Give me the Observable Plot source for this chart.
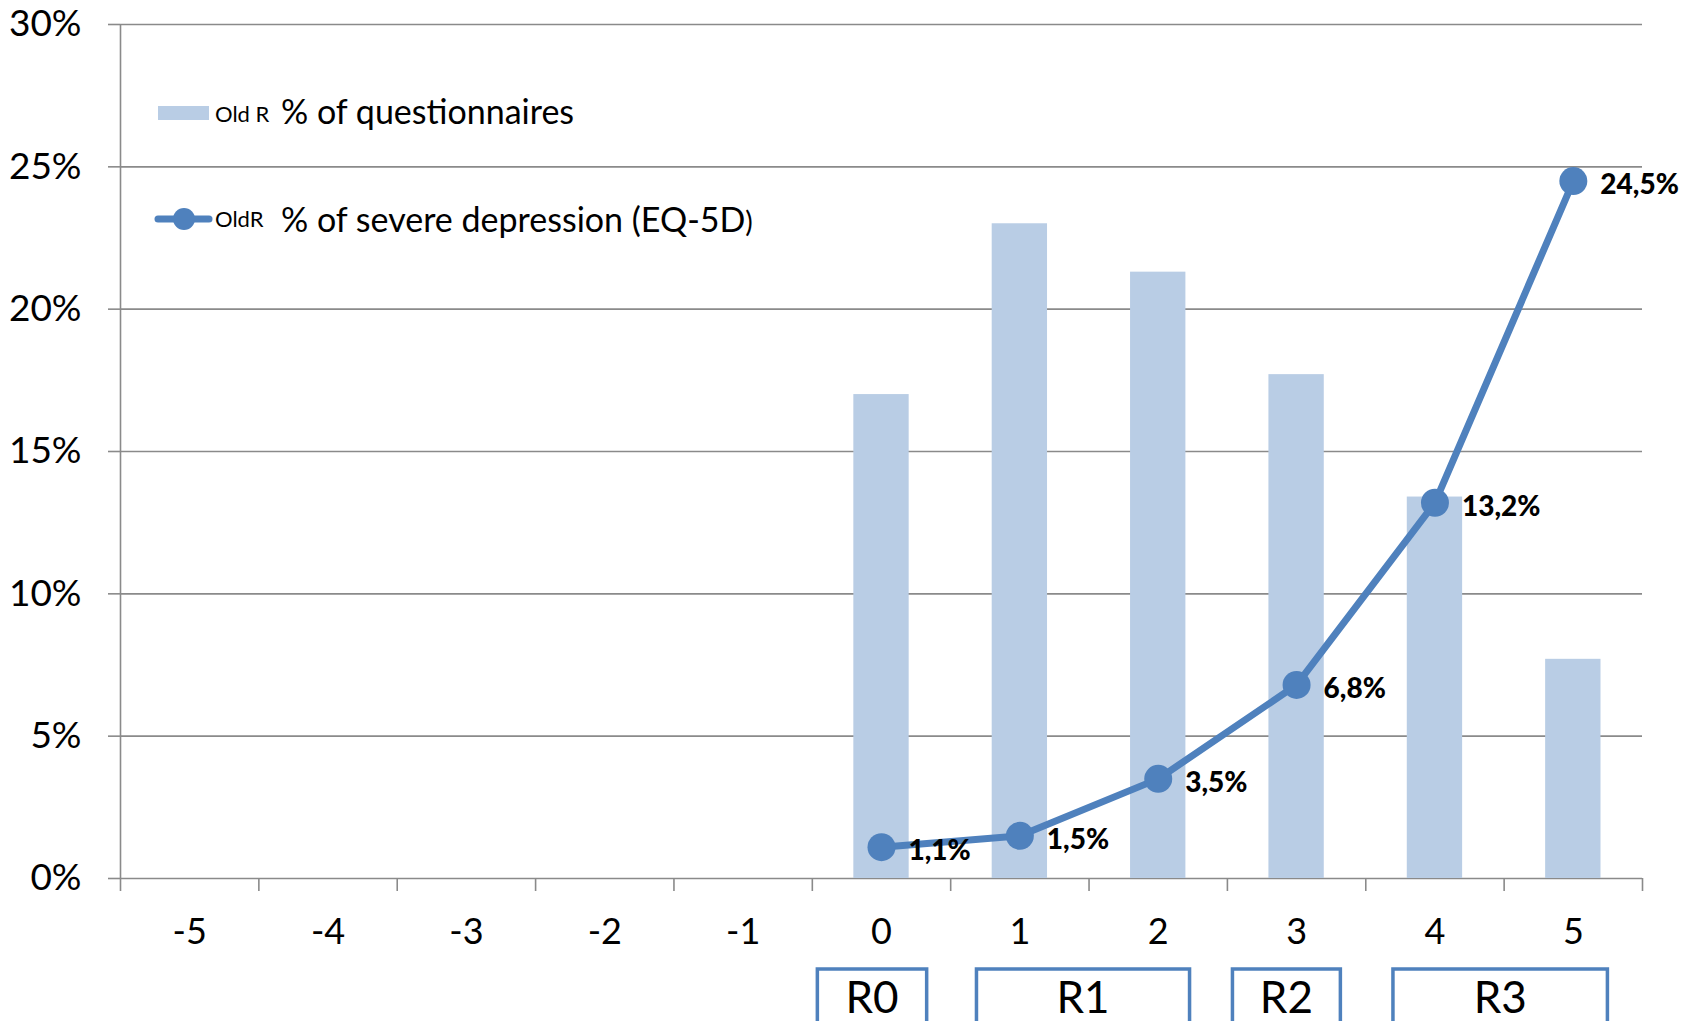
<!DOCTYPE html>
<html>
<head>
<meta charset="utf-8">
<script src="https://cdn.jsdelivr.net/npm/d3@7"></script>
<script src="https://cdn.jsdelivr.net/npm/@observablehq/plot@0.6"></script>
<style>
  html, body { margin: 0; padding: 0; background: #fff; }
  svg { display: block; }
</style>
</head>
<body>
<div id="chart"></div>
<script>
// Category positions on the horizontal axis
const categories = [-5, -4, -3, -2, -1, 0, 1, 2, 3, 4, 5];
// % of questionnaires per category (bars)
const questionnaireShare = [null, null, null, null, null, 17.0, 23.0, 21.3, 17.7, 13.4, 7.7];
// % of severe depression (EQ-5D) per category (line)
const severeDepression = [null, null, null, null, null, 1.1, 1.5, 3.5, 6.8, 13.2, 24.5];
// Y axis ticks (percent)
const yTicks = [0, 5, 10, 15, 20, 25, 30];
// Groups of categories shown in boxes under the axis
const regionLabels = ["R0", "R1", "R2", "R3"];
const regionStart = [-0.46, 0.69, 2.54, 3.70];
const regionEnd = [0.33, 2.23, 3.32, 5.25];

const barColor = "#B9CDE5";
const lineColor = "#4F81BD";
const gridColor = "#8a8a8a";
const halfBar = 0.2;
const font = "Lato, 'Open Sans', sans-serif";

const bars = categories
  .map((k, i) => ({k, v: questionnaireShare[i]}))
  .filter(d => d.v != null);
const points = categories
  .map((k, i) => ({k, v: severeDepression[i]}))
  .filter(d => d.v != null);
const boundaries = [...categories.map(k => k - 0.5), categories[categories.length - 1] + 0.5];
const fmt = v => v.toFixed(1).replace(".", ",") + "%";

const plot = Plot.plot({
  width: 1695,
  height: 1021,
  marginLeft: 120,
  marginRight: 53,
  marginTop: 24,
  marginBottom: 143,
  x: {type: "linear", domain: [boundaries[0], boundaries[boundaries.length - 1]]},
  y: {domain: [0, 30]},
  style: {fontFamily: font, background: "#fff", color: "#000"},
  marks: [
    Plot.ruleY(yTicks, {stroke: gridColor, strokeWidth: 1.6}),
    Plot.ruleX([boundaries[0]], {stroke: gridColor, strokeWidth: 1.6}),
    Plot.axisY({ticks: yTicks, tickFormat: d => d + "%", tickSize: 12, tickPadding: 27,
      fontSize: 37, stroke: gridColor, strokeWidth: 1.6, label: null}),
    Plot.axisX({ticks: boundaries, tickSize: 13, tickFormat: () => "",
      stroke: gridColor, strokeWidth: 1.6, label: null}),
    Plot.axisX({ticks: categories, tickSize: 0, tickPadding: 40, fontSize: 36,
      tickFormat: d => String(d), label: null}),
    Plot.rectY(bars, {x1: d => d.k - halfBar, x2: d => d.k + halfBar, y: "v", fill: barColor}),
    Plot.line(points, {x: "k", y: "v", stroke: lineColor, strokeWidth: 7, strokeLinejoin: "round"}),
    Plot.dot(points, {x: "k", y: "v", r: 14, fill: lineColor}),
    Plot.text(points, {x: "k", y: "v", text: d => fmt(d.v), dx: 27, dy: 4, textAnchor: "start",
      fontWeight: 900, fontSize: 28, fill: "#000"})
  ]
});

document.getElementById("chart").appendChild(plot);

const svg = d3.select(plot);
const xs = plot.scale("x");

// Boxes naming the groups under the category labels
const groups = svg.append("g").attr("font-family", font);
regionLabels.forEach((label, i) => {
  const x0 = xs.apply(regionStart[i]);
  const x1 = xs.apply(regionEnd[i]);
  groups.append("rect")
    .attr("x", x0).attr("y", 969)
    .attr("width", x1 - x0).attr("height", 80)
    .attr("fill", "none").attr("stroke", lineColor).attr("stroke-width", 3.5);
  groups.append("text")
    .attr("x", (x0 + x1) / 2).attr("y", 1013)
    .attr("text-anchor", "middle")
    .attr("font-size", 44)
    .attr("fill", "#000")
    .text(label);
});

// Legend inside the plot area
const legend = svg.append("g")
  .attr("font-family", font)
  .attr("text-anchor", "start")
  .attr("fill", "#000");
legend.append("rect").attr("x", 158).attr("y", 106).attr("width", 51).attr("height", 14).attr("fill", barColor);
legend.append("text").attr("x", 215).attr("y", 122).attr("font-size", 22).text("Old R");
legend.append("text").attr("x", 281).attr("y", 124).attr("font-size", 34).text("% of questionnaires");

legend.append("line").attr("x1", 158).attr("x2", 209).attr("y1", 219).attr("y2", 219)
  .attr("stroke", lineColor).attr("stroke-width", 7).attr("stroke-linecap", "round");
legend.append("circle").attr("cx", 184).attr("cy", 219).attr("r", 11).attr("fill", lineColor);
legend.append("text").attr("x", 215).attr("y", 227).attr("font-size", 22).text("OldR");
const sev = legend.append("text").attr("x", 281).attr("y", 232).attr("font-size", 34);
sev.append("tspan").text("% of severe depression (EQ-5D");
sev.append("tspan").attr("font-size", 28).text(")");
</script>
</body>
</html>
